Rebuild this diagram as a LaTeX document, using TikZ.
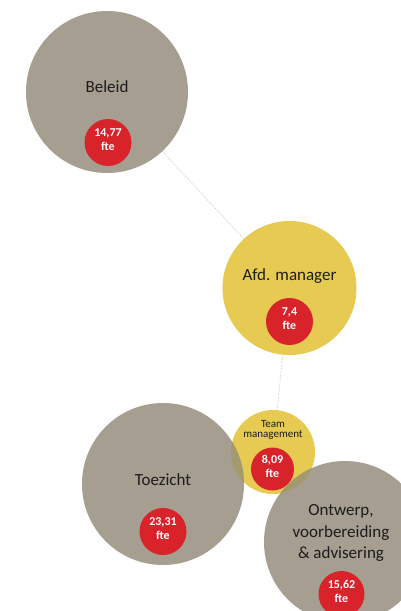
\documentclass[tikz,border=0pt]{standalone}
\usepackage{fontspec}
\setmainfont{Carlito}
\usetikzlibrary{backgrounds}
\definecolor{tanc}{HTML}{A59E91}
\definecolor{yelc}{HTML}{E6CA52}
\definecolor{redc}{HTML}{D8232A}
\definecolor{olivec}{HTML}{A39A6E}
\definecolor{linkc}{HTML}{D3CCB6}
\definecolor{txtc}{HTML}{1C1C1C}
\begin{document}
\begin{tikzpicture}[x=1pt,y=-1pt,
  bigc/.style={circle,inner sep=0pt,minimum size=#1},
  redcirc/.style={circle,inner sep=0pt,fill=redc,minimum size=#1},
  ftetext/.style={text=white,font=\bfseries\fontsize{12}{14}\selectfont,align=center,inner sep=0pt,yshift=2.5pt},
  maintext/.style={text=txtc,font=\fontsize{17}{21.5}\selectfont,align=center,inner sep=0pt},
  smalltext/.style={text=txtc,font=\fontsize{11}{9.5}\selectfont,align=center,inner sep=0pt},
  link/.style={draw=linkc,line width=0.8pt,dash pattern=on 1pt off 1.3pt}]
\useasboundingbox (0,0) rectangle (401,611);
\clip (0,0) rectangle (401,611);
% circle nodes
\node[bigc=162pt,fill=tanc] (beleid) at (107,92) {};
\node[bigc=134pt,fill=yelc] (afd) at (289.5,288) {};
\node[bigc=84pt,fill=yelc] (team) at (273,452) {};
\node[bigc=162pt,fill=tanc] (toez) at (163,484) {};
\node[bigc=162pt,fill=tanc] (ontw) at (345,542) {};
% connectors (behind the circles)
\begin{scope}[on background layer]
  \fill[white] (0,0) rectangle (401,611);
  \draw[link] (beleid.center) -- (afd.center);
  \draw[link] (afd.center) -- (team.center);
\end{scope}
% overlap lenses
\begin{scope}
  \clip (team.center) circle (42);
  \fill[olivec] (toez.center) circle (81);
  \fill[olivec] (ontw.center) circle (81);
\end{scope}
% red circles
\node[redcirc=47pt] (rbeleid) at (108,142.5) {};
\node[redcirc=47pt] (rafd) at (289.5,321.5) {};
\node[redcirc=43pt] (rteam) at (272.5,469) {};
\node[redcirc=47pt] (rtoez) at (163,531.5) {};
\node[redcirc=46pt] (rontw) at (341.5,594) {};
% labels
\node[maintext] (tbeleid) at (107,87) {Beleid};
\node[maintext] (tafd) at (289.5,276) {Afd. manager};
\node[smalltext] (tteam) at (273,430) {Team\\management};
\node[maintext] (ttoez) at (163,480) {Toezicht};
\node[maintext] (tontw) at (341,533) {Ontwerp,\\voorbereiding\\\& advisering};
\node[ftetext] (fbeleid) at (rbeleid.center) {14,77\\fte};
\node[ftetext] (fafd) at (rafd.center) {7,4\\fte};
\node[ftetext] (fteam) at (rteam.center) {8,09\\fte};
\node[ftetext] (ftoez) at (rtoez.center) {23,31\\fte};
\node[ftetext] (fontw) at (rontw.center) {15,62\\fte};
\end{tikzpicture}
\end{document}
